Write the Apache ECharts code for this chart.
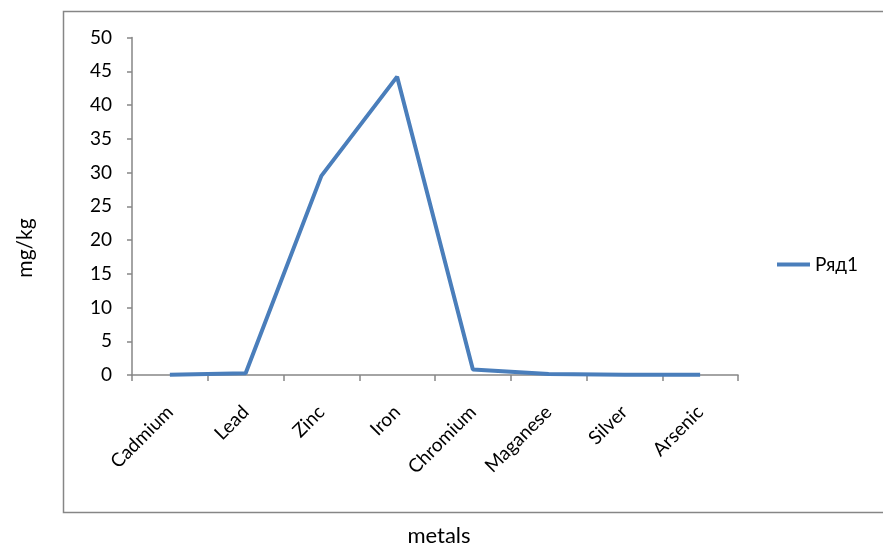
<!DOCTYPE html>
<html>
<head>
<meta charset="utf-8">
<script src="https://cdn.jsdelivr.net/npm/echarts@6/dist/echarts.min.js"></script>
<style>html,body{margin:0;padding:0;background:#fff;}#c{width:883px;height:548px;}</style>
</head>
<body>
<div id="c"></div>
<script>
const categories = ['Cadmium','Lead','Zinc','Iron','Chromium','Maganese','Silver','Arsenic'];
const values = [0.05, 0.25, 29.5, 44.2, 0.8, 0.15, 0.05, 0.05];
const seriesName = 'Ряд1';
const yTicks = {min: 0, max: 50, interval: 5};
const xTitle = 'metals';
const yTitle = 'mg/kg';

const font = 'Lato, "Liberation Sans", sans-serif';
const chart = echarts.init(document.getElementById('c'));
chart.setOption({
  animation: false,
  backgroundColor: '#fff',
  textStyle: {fontFamily: font},
  graphic: [{
    type: 'rect', shape: {x: 63.5, y: 11.5, width: 822, height: 501},
    style: {fill: 'none', stroke: '#868686', lineWidth: 1.5}, silent: true, z: -1
  }, {
    type: 'text', x: 25, y: 248, rotation: Math.PI / 2,
    style: {text: yTitle, font: '21px ' + font, fill: '#000', align: 'center', verticalAlign: 'middle'},
    silent: true
  }],
  grid: {left: 132, right: 145, top: 37.5, bottom: 173, containLabel: false, outerBoundsMode: 'none'},
  legend: {
    data: [seriesName], left: 772, top: 250, itemWidth: 33, itemHeight: 4, itemGap: 10,
    icon: 'rect',
    textStyle: {fontSize: 19, color: '#000', fontFamily: font}
  },
  xAxis: {
    type: 'category', data: categories, boundaryGap: true,
    name: xTitle, nameLocation: 'middle', nameGap: 150,
    nameTextStyle: {fontSize: 22, color: '#000', fontFamily: font, padding: [0, 0, 0, 8]},
    axisLine: {lineStyle: {color: '#868686', width: 1.5}},
    axisTick: {show: true, alignWithLabel: false, length: 6, lineStyle: {color: '#868686', width: 1.5}},
    axisLabel: {rotate: 45, fontSize: 19, color: '#000', margin: 34, interval: 0, fontFamily: font},
    splitLine: {show: false}
  },
  yAxis: {
    type: 'value', min: yTicks.min, max: yTicks.max, interval: yTicks.interval,
    axisLine: {show: true, lineStyle: {color: '#868686', width: 1.5}},
    axisTick: {show: true, length: 5, lineStyle: {color: '#868686', width: 1.5}},
    axisLabel: {fontSize: 19, color: '#000', margin: 20, fontFamily: font},
    splitLine: {show: false}
  },
  series: [{
    name: seriesName, type: 'line', data: values,
    symbol: 'none', lineStyle: {color: '#4a7ebb', width: 4}, itemStyle: {color: '#4a7ebb'}
  }]
});
</script>
</body>
</html>
